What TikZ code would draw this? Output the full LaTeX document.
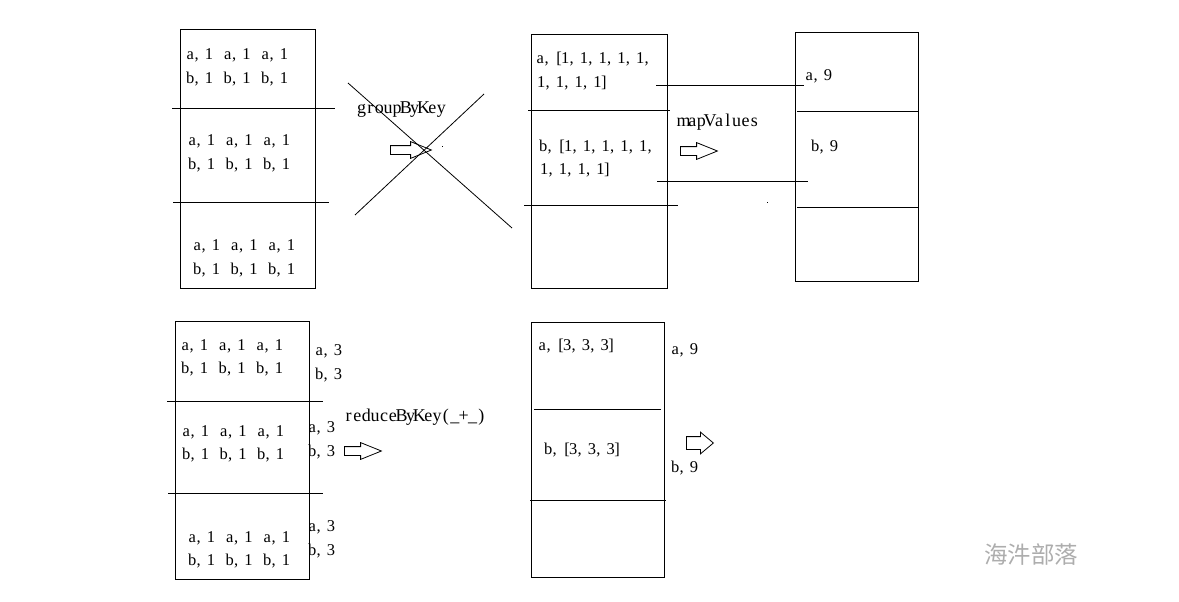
\documentclass[tikz,border=0pt]{standalone}
\usepackage{fontspec}
\setmainfont{Liberation Serif}
\newfontfamily\cjk{Noto Sans CJK SC}
\usetikzlibrary{shapes.arrows}
\ExplSyntaxOn
\NewDocumentCommand{\cells}{m m}{
  \str_map_inline:nn {#2} {
    \str_if_eq:nnTF {##1} {|} { \hbox_to_wd:nn {#1} {} } { \hbox_to_wd:nn {#1} { \hss ##1 \hss } }
  }
}
\ExplSyntaxOff
\newcommand\dat[1]{\cells{6.25pt}{#1}}
\newcommand\fnt[1]{\cells{8.85pt}{#1}}
\tikzset{
  box/.style={draw, line width=1pt, inner sep=0pt, outer sep=0pt, anchor=north west},
  sepline/.style={line width=1pt},
  xline/.style={line width=0.8pt},
  dtext/.style={anchor=west, inner sep=0pt, font=\fontsize{16.5}{18}\selectfont},
  ftext/.style={anchor=west, inner sep=0pt, font=\fontsize{18}{20}\selectfont},
  harrow/.style={draw, line width=0.8pt, single arrow, anchor=tail, inner xsep=0pt, inner ysep=4pt,
    minimum width=0pt, single arrow head extend=4pt, single arrow tip angle=44},
  wmark/.style={anchor=west, inner sep=0pt, text=black!32, font=\cjk\fontsize{23.5}{25}\selectfont}
}
\begin{document}
\begin{tikzpicture}[x=1pt,y=-1pt]
\useasboundingbox (0,0) rectangle (1179,602);

% ---------- top left box
\node[box, minimum width=135pt, minimum height=258pt] (b1) at (180,30) {};
\draw[sepline] (172,109) -- (335,109);
\draw[sepline] (173,202) -- (329,202);
\node[dtext] (t1a) at (187,55) {\dat{a, 1| a, 1| a, 1}};
\node[dtext] (t1b) at (187,79) {\dat{b, 1| b, 1| b, 1}};
\node[dtext] (t2a) at (189,141) {\dat{a, 1| a, 1| a, 1}};
\node[dtext] (t2b) at (189,165) {\dat{b, 1| b, 1| b, 1}};
\node[dtext] (t3a) at (194,246) {\dat{a, 1| a, 1| a, 1}};
\node[dtext] (t3b) at (194,270) {\dat{b, 1| b, 1| b, 1}};

% ---------- groupByKey (crossed out)
\node[ftext] (gbk) at (357,110) {\fnt{groupByKey}};
\node[harrow, minimum height=41pt] (ar1) at (390,150) {};
\draw[xline] (348,83) -- (512,228);
\draw[xline] (355,215) -- (484,94);
\fill (441.5,145.5) rectangle (442.8,146.8);

% ---------- top middle box
\node[box, minimum width=136pt, minimum height=253pt] (b2) at (531,35) {};
\draw[sepline] (528,111) -- (670,111);
\draw[sepline] (524,205) -- (678,205);
\node[dtext] (u1) at (537,59) {\dat{a, [1, 1, 1, 1, 1,}};
\node[dtext] (u2) at (538,83) {\dat{1, 1, 1, 1]}};
\node[dtext] (u3) at (540,147) {\dat{b, [1, 1, 1, 1, 1,}};
\node[dtext] (u4) at (541,170) {\dat{1, 1, 1, 1]}};
\draw[sepline] (656,86) -- (804,86);
\draw[sepline] (657,181) -- (808,181);

% ---------- mapValues
\node[ftext] (mv) at (679,122) {\fnt{mapValues}};
\node[harrow, minimum height=37pt] (ar2) at (680,151) {};
\fill (766.5,201.5) rectangle (767.8,202.8);

% ---------- top right box
\node[box, minimum width=123pt, minimum height=248pt] (b3) at (795,33) {};
\draw[sepline] (797,112) -- (918,112);
\draw[sepline] (797,207) -- (918,207);
\node[dtext] (v1) at (806,76) {\dat{a, 9}};
\node[dtext] (v2) at (812,147) {\dat{b, 9}};

% ---------- bottom left box
\node[box, minimum width=134pt, minimum height=258pt] (b4) at (175,321) {};
\draw[sepline] (167,401) -- (323,401);
\draw[sepline] (168,493) -- (323,493);
\node[dtext] (w1a) at (182,346) {\dat{a, 1| a, 1| a, 1}};
\node[dtext] (w1b) at (182,369) {\dat{b, 1| b, 1| b, 1}};
\node[dtext] (w2a) at (183,432) {\dat{a, 1| a, 1| a, 1}};
\node[dtext] (w2b) at (183,455) {\dat{b, 1| b, 1| b, 1}};
\node[dtext] (w3a) at (189,538) {\dat{a, 1| a, 1| a, 1}};
\node[dtext] (w3b) at (189,561) {\dat{b, 1| b, 1| b, 1}};
\node[dtext] (s1a) at (316,351) {\dat{a, 3}};
\node[dtext] (s1b) at (316,375) {\dat{b, 3}};
\node[dtext] (s2a) at (309,428) {\dat{a, 3}};
\node[dtext] (s2b) at (309,452) {\dat{b, 3}};
\node[dtext] (s3a) at (309,527) {\dat{a, 3}};
\node[dtext] (s3b) at (309,551) {\dat{b, 3}};

% ---------- reduceByKey
\node[ftext] (rbk) at (344,417) {\fnt{reduceByKey(_+_)}};
\node[harrow, minimum height=37pt] (ar3) at (344,451) {};

% ---------- bottom middle box
\node[box, minimum width=133pt, minimum height=255pt] (b5) at (531,322) {};
\draw[sepline] (534,409) -- (661,409);
\draw[sepline] (530,500) -- (666,500);
\node[dtext] (x1) at (539,346) {\dat{a, [3, 3, 3]}};
\node[dtext] (x2) at (545,450) {\dat{b, [3, 3, 3]}};
\node[dtext] (y1) at (672,350) {\dat{a, 9}};
\node[dtext] (y2) at (672,468) {\dat{b, 9}};
\node[harrow, minimum height=27pt, inner ysep=6pt, single arrow head extend=4.5pt, single arrow tip angle=80] (ar4) at (686,443) {};

% ---------- watermark
\node[wmark] (wm) at (984,555) {海汼部落};
\end{tikzpicture}
\end{document}
